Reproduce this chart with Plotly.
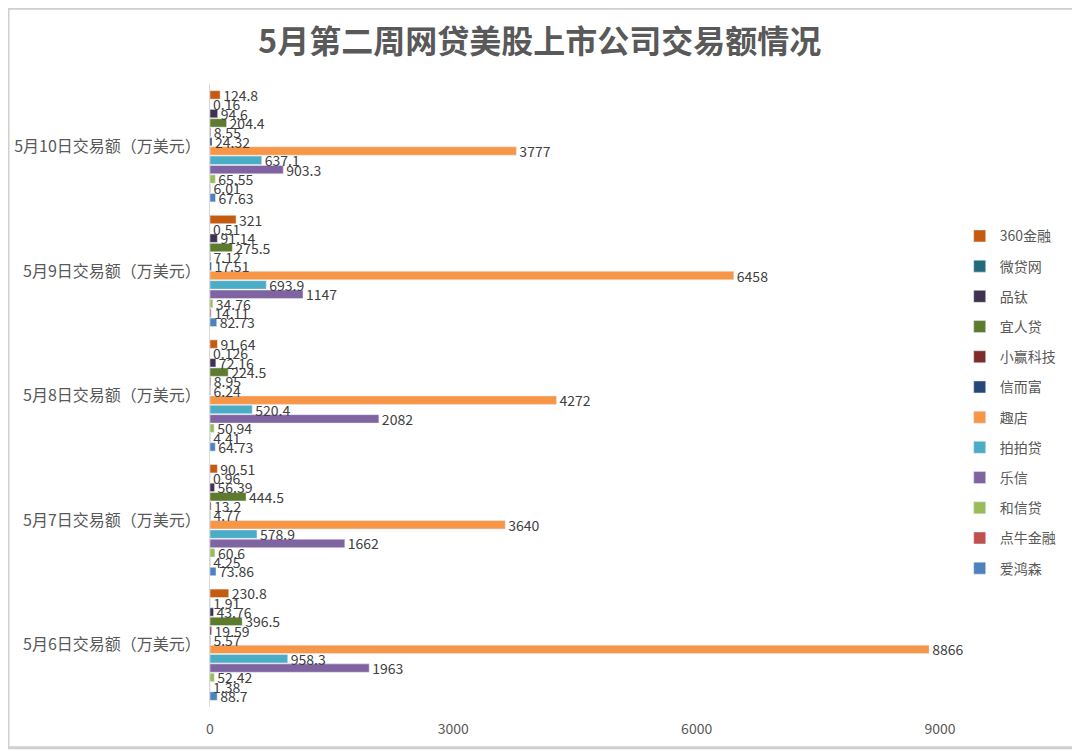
import plotly.graph_objects as go

# categories, bottom to top as drawn
days = [
    "5月6日交易额（万美元）",
    "5月7日交易额（万美元）",
    "5月8日交易额（万美元）",
    "5月9日交易额（万美元）",
    "5月10日交易额（万美元）"
]

# series, in legend order (top to bottom)
companies = ["360金融", "微贷网", "品钛", "宜人贷", "小赢科技", "信而富",
             "趣店", "拍拍贷", "乐信", "和信贷", "点牛金融", "爱鸿森"]

v_360 = [230.8, 90.51, 91.64, 321, 124.8]
v_weidai = [1.91, 0.96, 0.126, 0.51, 0.16]
v_pintai = [43.76, 56.39, 72.16, 91.14, 94.6]
v_yiren = [396.5, 444.5, 224.5, 275.5, 204.4]
v_xiaoying = [19.59, 13.2, 8.95, 7.12, 8.55]
v_xinerfu = [5.57, 4.77, 6.24, 17.51, 24.32]
v_qudian = [8866, 3640, 4272, 6458, 3777]
v_paipai = [958.3, 578.9, 520.4, 693.9, 637.1]
v_lexin = [1963, 1662, 2082, 1147, 903.3]
v_hexin = [52.42, 60.6, 50.94, 34.76, 65.55]
v_dianniu = [1.38, 4.25, 4.41, 14.11, 6.01]
v_aihongsen = [88.7, 73.86, 64.73, 82.73, 67.63]

values = [v_360, v_weidai, v_pintai, v_yiren, v_xiaoying, v_xinerfu,
          v_qudian, v_paipai, v_lexin, v_hexin, v_dianniu, v_aihongsen]

x_ticks = [0, 3000, 6000, 9000]

colors = [
    '#C55A11',  # 360金融
    '#23697C',  # 微贷网
    '#403152',  # 品钛
    '#5E7B2D',  # 宜人贷
    '#7F2B2A',  # 小赢科技
    '#274679',  # 信而富
    '#F79646',  # 趣店
    '#4BACC6',  # 拍拍贷
    '#8064A2',  # 乐信
    '#9BBB59',  # 和信贷
    '#C0504D',  # 点牛金融
    '#4F81BD'   # 爱鸿森
]

font_cn = "Noto Sans CJK SC"

fig = go.Figure()

# first trace sits at the bottom of each group, so add them reversed
rows = list(zip(range(len(companies)), companies, values, colors))
for rank, name, vals, col in reversed(rows):
    fig.add_trace(go.Bar(
        y=days, x=vals, name=name, orientation='h',
        marker=dict(color=col),
        text=[str(v) for v in vals], textposition='outside',
        textfont=dict(size=14, color='#404040'),
        constraintext='none', cliponaxis=False,
        legendgroup=name, legendrank=rank + 1
    ))

# page has an 8px body margin, so the figure is 8px smaller
fig.update_layout(
    width=1072, height=742,
    paper_bgcolor='white', plot_bgcolor='white',
    font=dict(family=font_cn, color='#595959'),
    title=dict(text="<b>5月第二周网贷美股上市公司交易额情况</b>", x=0.496, xanchor='center',
               y=0.954, yanchor='middle', font=dict(size=32, color='#595959')),
    barmode='group', bargap=0.1, bargroupgap=0.1,
    margin=dict(l=202, r=140, t=76, b=41),
    legend=dict(x=1.027, xanchor='left', y=0.489, yanchor='middle',
                traceorder='grouped', tracegroupgap=9,
                font=dict(size=14, color='#595959'), itemwidth=30),
    xaxis=dict(range=[0, 9000], tickvals=x_ticks, showgrid=False, zeroline=False,
               showline=False, ticks='', ticklabelstandoff=12,
               tickfont=dict(size=14, color='#595959')),
    yaxis=dict(showline=True, linecolor='#D9D9D9', linewidth=1, ticks='',
               automargin=False, ticklabelstandoff=5,
               tickfont=dict(size=16, color='#595959')),
    shapes=[dict(type='rect', xref='paper', yref='paper',
                 x0=-202 / 730, x1=1 + 140 / 730, y0=-41 / 625, y1=1 + 76 / 625,
                 line=dict(color='#D0D0D0', width=3))]
)

fig.write_html("out.html")
